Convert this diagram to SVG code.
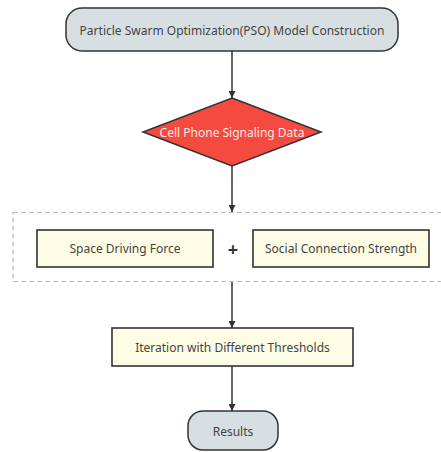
<svg xmlns="http://www.w3.org/2000/svg" width="441" height="452" viewBox="0 0 441 452">
<defs>
<style>
.term{fill:#d8dfe2;stroke:#333;stroke-width:1.5}
.proc{fill:#fdfde6;stroke:#333;stroke-width:1.6}
.lbl{font-family:"Noto Sans","Open Sans",sans-serif;font-size:12px;fill:#444;text-anchor:middle;dominant-baseline:central}
.edge{stroke:#333;stroke-width:1.5;fill:none;marker-end:url(#arr)}
</style>
<marker id="arr" viewBox="0 0 10 10" refX="10" refY="5" markerWidth="7" markerHeight="7" markerUnits="userSpaceOnUse" orient="auto">
<path d="M0,0 L10,5 L0,10 z" fill="#333"/>
</marker>
</defs>
<rect width="441" height="452" fill="#fff"/>
<g id="group-box">
<rect x="13" y="212.5" width="440" height="69" fill="none" stroke="#bbb" stroke-width="1.2" stroke-dasharray="5,3"/>
</g>
<g id="connectors">
<line class="edge" x1="232" y1="51" x2="232" y2="98"/>
<line class="edge" x1="232" y1="166" x2="232" y2="212"/>
<line class="edge" x1="232" y1="282" x2="232" y2="328"/>
<line class="edge" x1="232" y1="366" x2="232" y2="411"/>
</g>
<g id="n-pso">
<rect class="term" x="66" y="8" width="332" height="43" rx="16"/>
<text class="lbl" x="232" y="30">Particle Swarm Optimization(PSO) Model Construction</text>
</g>
<g id="n-signal">
<polygon points="232,98 321,132 232,166 143,132" fill="#f44a3f" stroke="#333" stroke-width="1.5"/>
<text class="lbl" x="232" y="132" style="fill:#fde6e4">Cell Phone Signaling Data</text>
</g>
<g id="n-space">
<rect class="proc" x="37" y="230" width="176" height="37"/>
<text class="lbl" x="125" y="248.5">Space Driving Force</text>
</g>
<g id="n-plus">
<text class="lbl" x="233" y="249" style="font-size:18px;font-weight:bold;fill:#333">+</text>
</g>
<g id="n-social">
<rect class="proc" x="253" y="230" width="176" height="37"/>
<text class="lbl" x="341" y="248.5">Social Connection Strength</text>
</g>
<g id="n-iter">
<rect class="proc" x="112" y="328" width="241" height="38"/>
<text class="lbl" x="232.5" y="347">Iteration with Different Thresholds</text>
</g>
<g id="n-results">
<rect class="term" x="188" y="411" width="90" height="39" rx="15"/>
<text class="lbl" x="233" y="431">Results</text>
</g>
</svg>
